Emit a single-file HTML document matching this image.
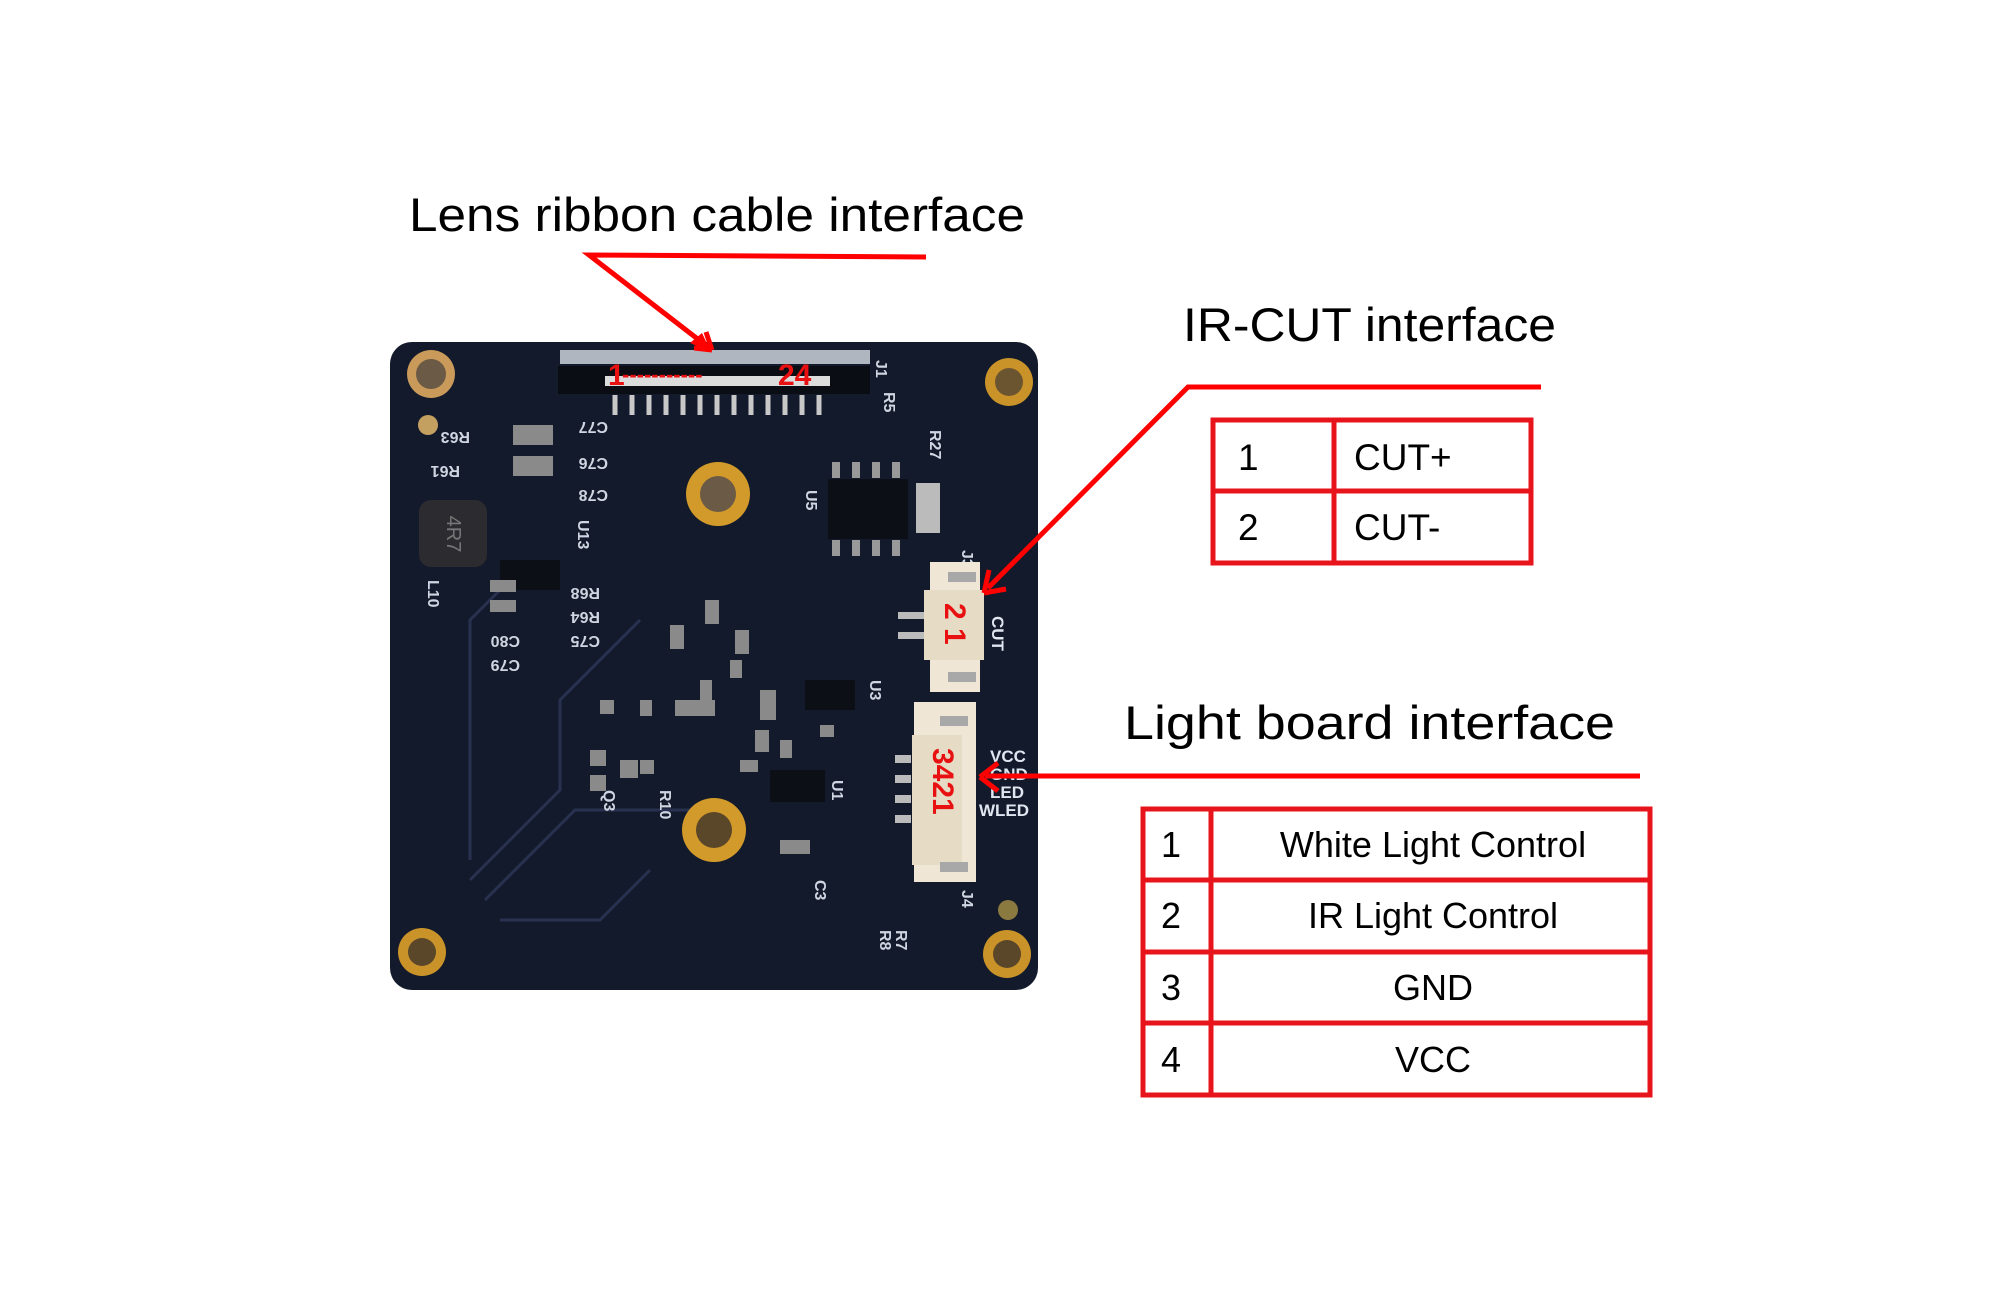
<!DOCTYPE html>
<html><head><meta charset="utf-8"><style>
html,body{margin:0;padding:0;background:#fff;}
svg{display:block;}
text{font-family:"Liberation Sans",sans-serif;}
</style></head><body>
<svg width="1999" height="1293" viewBox="0 0 1999 1293" xmlns="http://www.w3.org/2000/svg">
<rect width="1999" height="1293" fill="#fff"/>
<!-- board -->
<rect x="390" y="342" width="648" height="648" rx="22" fill="#131a2b"/>
<g fill="none" stroke="#283150" stroke-width="3">
<path d="M470 880 L560 790 L560 700 L640 620"/><path d="M485 900 L575 810 L700 810"/><path d="M500 920 L600 920 L650 870"/>
<path d="M470 860 L470 620 L520 570"/>
</g>
<!-- holes -->
<g>
<circle cx="431" cy="374" r="24" fill="#c99a5a"/><circle cx="431" cy="374" r="15" fill="#6b5a45"/>
<circle cx="1009" cy="382" r="24" fill="#c9932a"/><circle cx="1009" cy="382" r="14" fill="#6b5530"/>
<circle cx="422" cy="952" r="24" fill="#c9932a"/><circle cx="422" cy="952" r="14" fill="#5a4628"/>
<circle cx="1007" cy="954" r="24" fill="#c9932a"/><circle cx="1007" cy="954" r="14" fill="#5a4628"/>
<circle cx="718" cy="494" r="32" fill="#d29a2a"/><circle cx="718" cy="494" r="18" fill="#6b5a45"/>
<circle cx="714" cy="830" r="32" fill="#d29a2a"/><circle cx="714" cy="830" r="18" fill="#5a4628"/>
<circle cx="428" cy="425" r="10" fill="#c4a060"/>
<circle cx="1008" cy="910" r="10" fill="#8a7a40"/>
</g>
<!-- J1 connector -->
<rect x="560" y="350" width="310" height="14" fill="#d8dde5" opacity="0.8"/>
<rect x="558" y="366" width="312" height="28" fill="#0a0d14"/>
<rect x="605" y="376" width="225" height="10" fill="#dcdcdc"/>
<g stroke="#c8c8c8" stroke-width="5">
<path d="M615 395v20M632 395v20M649 395v20M666 395v20M683 395v20M700 395v20M717 395v20M734 395v20M751 395v20M768 395v20M785 395v20M802 395v20M819 395v20"/>
</g>
<text x="608" y="385" font-size="30" font-weight="bold" fill="#e81010">1</text>
<text x="622" y="382" font-size="22" font-weight="bold" fill="#e81010">-----------</text>
<text x="778" y="385" font-size="30" font-weight="bold" fill="#e81010">24</text>
<!-- chips -->
<rect x="828" y="479" width="80" height="60" fill="#0c0f16"/>
<g fill="#999"><rect x="832" y="462" width="8" height="16"/><rect x="852" y="462" width="8" height="16"/><rect x="872" y="462" width="8" height="16"/><rect x="892" y="462" width="8" height="16"/>
<rect x="832" y="540" width="8" height="16"/><rect x="852" y="540" width="8" height="16"/><rect x="872" y="540" width="8" height="16"/><rect x="892" y="540" width="8" height="16"/></g>
<rect x="419" y="500" width="68" height="67" rx="12" fill="#2b2b30"/>
<text x="453" y="540" font-size="20" fill="#777" text-anchor="middle" transform="rotate(90 453 534)">4R7</text>
<rect x="500" y="560" width="60" height="30" fill="#0c0f16"/>
<rect x="805" y="680" width="50" height="30" fill="#0c0f16"/>
<rect x="770" y="770" width="55" height="32" fill="#0c0f16"/>
<rect x="916" y="483" width="24" height="50" fill="#bbb"/>
<g fill="#8a8a8a">
<rect x="513" y="425" width="40" height="20"/><rect x="513" y="456" width="40" height="20"/>
<rect x="670" y="625" width="14" height="24"/><rect x="705" y="600" width="14" height="24"/>
<rect x="735" y="630" width="14" height="24"/><rect x="675" y="700" width="40" height="16"/>
<rect x="760" y="690" width="16" height="30"/><rect x="755" y="730" width="14" height="22"/>
<rect x="590" y="750" width="16" height="16"/><rect x="620" y="760" width="18" height="18"/>
<rect x="590" y="775" width="16" height="16"/><rect x="490" y="580" width="26" height="12"/>
<rect x="490" y="600" width="26" height="12"/><rect x="780" y="840" width="30" height="14"/>
<rect x="700" y="680" width="12" height="20"/><rect x="730" y="660" width="12" height="18"/>
<rect x="640" y="700" width="12" height="16"/><rect x="740" y="760" width="18" height="12"/>
<rect x="780" y="740" width="12" height="18"/><rect x="820" y="725" width="14" height="12"/>
<rect x="600" y="700" width="14" height="14"/><rect x="640" y="760" width="14" height="14"/>
</g>
<g font-size="16" font-weight="bold" fill="#cfd6e2">
<text x="0" y="0" transform="translate(470 432) rotate(180)">R63</text>
<text x="0" y="0" transform="translate(460 466) rotate(180)">R61</text>
<text x="0" y="0" transform="translate(608 422) rotate(180)">C77</text>
<text x="0" y="0" transform="translate(608 458) rotate(180)">C76</text>
<text x="0" y="0" transform="translate(608 490) rotate(180)">C78</text>
<text x="0" y="0" transform="translate(600 588) rotate(180)">R68</text>
<text x="0" y="0" transform="translate(600 612) rotate(180)">R64</text>
<text x="0" y="0" transform="translate(600 636) rotate(180)">C75</text>
<text x="0" y="0" transform="translate(520 636) rotate(180)">C80</text>
<text x="0" y="0" transform="translate(520 660) rotate(180)">C79</text>
<text x="0" y="0" transform="translate(428 580) rotate(90)">L10</text>
<text x="0" y="0" transform="translate(578 520) rotate(90)">U13</text>
<text x="0" y="0" transform="translate(806 490) rotate(90)">U5</text>
<text x="0" y="0" transform="translate(870 680) rotate(90)">U3</text>
<text x="0" y="0" transform="translate(832 780) rotate(90)">U1</text>
<text x="0" y="0" transform="translate(876 360) rotate(90)">J1</text>
<text x="0" y="0" transform="translate(962 550) rotate(90)">J3</text>
<text x="0" y="0" transform="translate(962 890) rotate(90)">J4</text>
<text x="0" y="0" transform="translate(930 430) rotate(90)">R27</text>
<text x="0" y="0" transform="translate(884 392) rotate(90)">R5</text>
<text x="0" y="0" transform="translate(896 930) rotate(90)">R7</text>
<text x="0" y="0" transform="translate(880 930) rotate(90)">R8</text>
<text x="0" y="0" transform="translate(604 790) rotate(90)">Q3</text>
<text x="0" y="0" transform="translate(660 790) rotate(90)">R10</text>
<text x="0" y="0" transform="translate(815 880) rotate(90)">C3</text>
</g>
<!-- J3 white -->
<rect x="930" y="562" width="50" height="130" fill="#efe6d5"/>
<rect x="924" y="590" width="60" height="70" fill="#e6dcc6"/>
<rect x="948" y="572" width="28" height="10" fill="#a8a8a8"/><rect x="948" y="672" width="28" height="10" fill="#a8a8a8"/>
<g fill="#bbb"><rect x="898" y="612" width="26" height="7"/><rect x="898" y="632" width="26" height="7"/></g>
<text x="0" y="0" font-size="30" font-weight="bold" fill="#e81010" transform="translate(945 603) rotate(90)">2 1</text>
<!-- J4 white -->
<rect x="914" y="702" width="62" height="180" fill="#efe6d5"/>
<rect x="912" y="735" width="50" height="130" fill="#e6dcc6"/>
<rect x="940" y="716" width="28" height="10" fill="#a8a8a8"/><rect x="940" y="862" width="28" height="10" fill="#a8a8a8"/>
<g fill="#bbb"><rect x="895" y="755" width="16" height="8"/><rect x="895" y="775" width="16" height="8"/><rect x="895" y="795" width="16" height="8"/><rect x="895" y="815" width="16" height="8"/></g>
<text x="0" y="0" font-size="30" font-weight="bold" fill="#e81010" transform="translate(933 748) rotate(90)">3421</text>
<g font-size="17" font-weight="bold" fill="#dfe6f0">
<text x="990" y="762">VCC</text><text x="990" y="780">GND</text><text x="990" y="798">LED</text><text x="979" y="816">WLED</text>
</g>
<text x="0" y="0" font-size="17" font-weight="bold" fill="#dfe6f0" transform="translate(992 616) rotate(90)">CUT</text>
<!-- titles -->
<g font-size="47" fill="#000">
<text x="409" y="231" textLength="616" lengthAdjust="spacingAndGlyphs">Lens ribbon cable interface</text>
<text x="1183" y="341" textLength="373" lengthAdjust="spacingAndGlyphs">IR-CUT  interface</text>
<text x="1124" y="739" textLength="491" lengthAdjust="spacingAndGlyphs">Light board  interface</text>
</g>
<!-- leader lines -->
<g stroke="#f00" stroke-width="5" fill="none" stroke-linecap="butt">
<path d="M926 257 L589 255 L708 347"/>
<path d="M1541 387 L1188 387 L988 588"/>
<path d="M1640 776 L985 776"/>
</g>
<g fill="#f00">
<path d="M711 352 L690 343 L702 333 Z" />
<path d="M712 350 L694 348 M712 350 L706 332" stroke="#f00" stroke-width="5"/>
<path d="M984 593 L989 570 M984 593 L1006 589" stroke="#f00" stroke-width="5" fill="none"/>
<path d="M980 777 L998 763 M980 777 L998 791" stroke="#f00" stroke-width="5" fill="none"/>
</g>
<!-- IR table -->
<g stroke="#e8141c" stroke-width="5" fill="none">
<rect x="1213" y="420" width="318" height="143"/>
<line x1="1334" y1="420" x2="1334" y2="563"/>
<line x1="1213" y1="491" x2="1531" y2="491"/>
</g>
<g font-size="37" fill="#000">
<text x="1238" y="470">1</text><text x="1354" y="470">CUT+</text>
<text x="1238" y="540">2</text><text x="1354" y="540">CUT-</text>
</g>
<!-- Light table -->
<g stroke="#e8141c" stroke-width="5" fill="none">
<rect x="1143" y="809" width="507" height="286"/>
<line x1="1211" y1="809" x2="1211" y2="1095"/>
<line x1="1143" y1="880" x2="1650" y2="880"/>
<line x1="1143" y1="952" x2="1650" y2="952"/>
<line x1="1143" y1="1023" x2="1650" y2="1023"/>
</g>
<g font-size="36" fill="#000" text-anchor="middle">
<text x="1171" y="857">1</text><text x="1433" y="857">White Light Control</text>
<text x="1171" y="928">2</text><text x="1433" y="928">IR Light Control</text>
<text x="1171" y="1000">3</text><text x="1433" y="1000">GND</text>
<text x="1171" y="1072">4</text><text x="1433" y="1072">VCC</text>
</g>
</svg>
</body></html>
